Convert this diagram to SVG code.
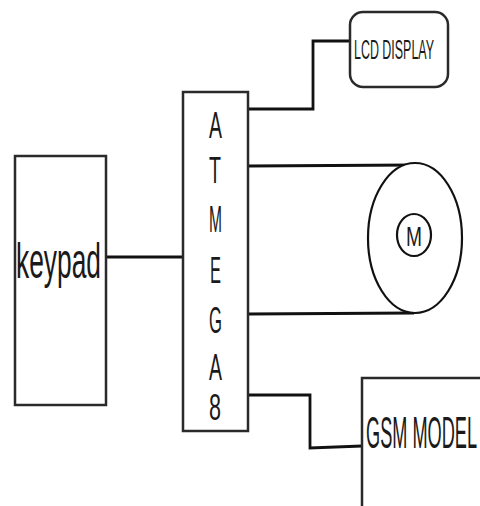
<svg xmlns="http://www.w3.org/2000/svg" width="480" height="506" viewBox="0 0 480 506">
<style>
.box{fill:#fff;stroke:#2a2a2a;stroke-width:2.5}
.wire{fill:none;stroke:#111;stroke-width:2.8}
.t{font-family:"Liberation Sans",Arial,sans-serif;fill:#1a1a1a}
</style>
<rect width="480" height="506" fill="#fff"/>
<g id="connectors">
<polyline class="wire" points="248,109 313,109 313,41 350,41"/>
<line class="wire" x1="248" y1="166" x2="414" y2="165"/>
<line class="wire" x1="248" y1="314" x2="414" y2="313"/>
<line class="wire" x1="106" y1="257" x2="183" y2="257"/>
<polyline class="wire" points="248,395 310,395 310,448 362,446"/>
</g>
<g id="lcd">
<rect class="box" x="350" y="12" width="98" height="75" rx="13"/>
<text class="t" x="354" y="59" font-size="27" textLength="80" lengthAdjust="spacingAndGlyphs">LCD DISPLAY</text>
</g>
<g id="atmega">
<rect class="box" x="183" y="92" width="65" height="339"/>
<g class="t" font-size="37" text-anchor="start">
<text x="209" y="138" textLength="13" lengthAdjust="spacingAndGlyphs">A</text>
<text x="209" y="183" textLength="12" lengthAdjust="spacingAndGlyphs">T</text>
<text x="209" y="232" textLength="13" lengthAdjust="spacingAndGlyphs">M</text>
<text x="210" y="283" textLength="11" lengthAdjust="spacingAndGlyphs">E</text>
<text x="209" y="333" textLength="13" lengthAdjust="spacingAndGlyphs">G</text>
<text x="209" y="380" textLength="13" lengthAdjust="spacingAndGlyphs">A</text>
<text x="209" y="420" textLength="12" lengthAdjust="spacingAndGlyphs">8</text>
</g>
</g>
<g id="keypad">
<rect class="box" x="15" y="156" width="91" height="249"/>
<text class="t" x="16" y="278" font-size="50" textLength="85" lengthAdjust="spacingAndGlyphs">keypad</text>
</g>
<g id="motor">
<ellipse cx="415" cy="238" rx="47" ry="75" fill="#fff" stroke="#111" stroke-width="2.2"/>
<ellipse cx="414" cy="235" rx="17" ry="21" fill="#fff" stroke="#111" stroke-width="2.2"/>
<text class="t" x="406" y="246" font-size="28" textLength="16" lengthAdjust="spacingAndGlyphs">M</text>
</g>
<g id="gsm">
<rect class="box" x="362" y="378" width="140" height="140"/>
<text class="t" x="366" y="448" font-size="44" textLength="111" lengthAdjust="spacingAndGlyphs">GSM MODEL</text>
</g>
</svg>
